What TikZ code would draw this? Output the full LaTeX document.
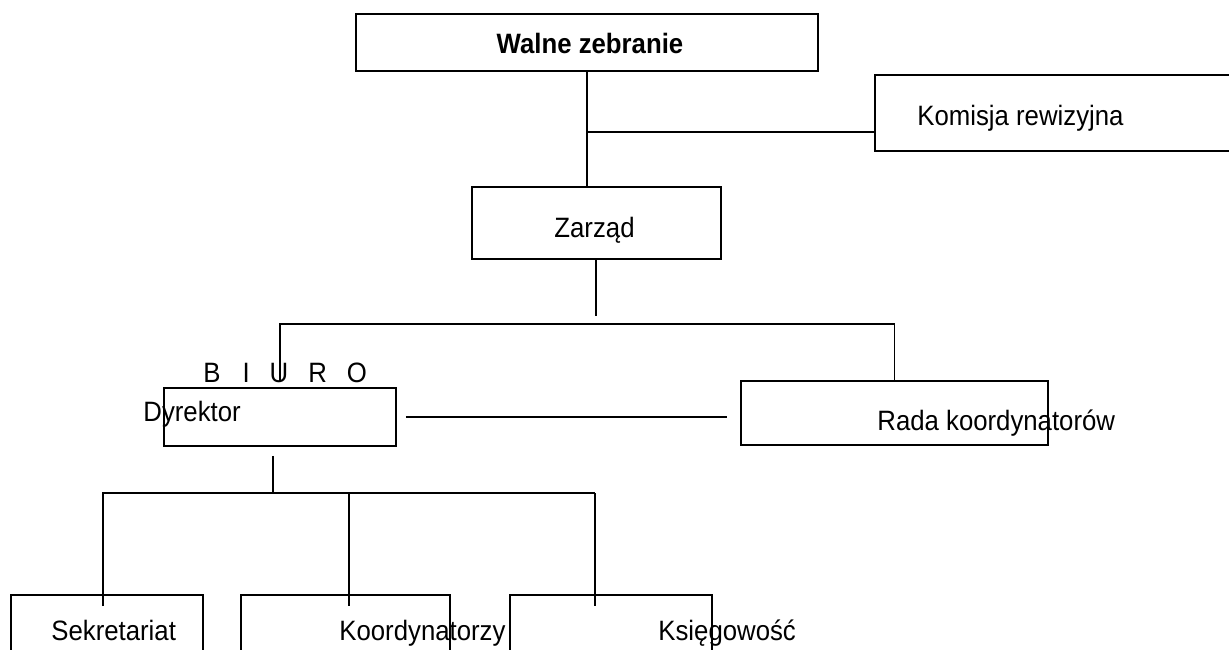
\documentclass[tikz,border=0pt]{standalone}
\usepackage{fontspec}
\setmainfont{Liberation Sans}[FakeStretch=0.92]
\usetikzlibrary{positioning}

\begin{document}
\begin{tikzpicture}[
        x=0.5pt, y=-0.5pt,
        every node/.style={font=\fontsize{14pt}{16pt}\selectfont},
        box/.style={draw, rectangle, inner sep=0pt, line width=0.75pt},
        lbl/.style={inner sep=0pt, anchor=base west},
        link/.style={line width=0.8pt},
        heavy/.style={line width=1.1pt}
    ]
    \clip (0,0) rectangle (1229,649);

    % boxes
    \node[box, minimum width=231pt, minimum height=28.5pt] (walne) at (587,42.5) {};
    \node[box, minimum width=187.5pt, minimum height=38pt] (komisja) at (1062.5,113) {};
    \node[box, minimum width=124.5pt, minimum height=36pt] (zarzad) at (596.5,223) {};
    \node[box, minimum width=116pt, minimum height=29pt] (dyrektor) at (280,417) {};
    \node[box, minimum width=153.5pt, minimum height=32pt] (rada) at (894.5,413) {};
    \node[box, minimum width=96pt, minimum height=52.5pt] (sekretariat) at (107,647.5) {};
    \node[box, heavy, minimum width=104.5pt, minimum height=52.5pt] (koord) at (345.5,647.5) {};
    \node[box, minimum width=101pt, minimum height=52.5pt] (ksieg) at (611,647.5) {};

    % texts
    \node[lbl, anchor=base] (walnetxt) at (590,53) {\textbf{Walne zebranie}};
    \node[lbl] (komisjatxt) at (917,125) {Komisja rewizyjna};
    \node[lbl] (zarzadtxt) at (554,237) {Zarząd};
    \node[lbl] (biurotxt) at (203,382) {B\hspace{11pt}I\hspace{10pt}U\hspace{10pt}R\hspace{10pt}O};
    \node[lbl] (dyrektortxt) at (143,421) {Dyrektor};
    \node[lbl] (radatxt) at (877,430) {Rada koordynatorów};
    \node[lbl] (sekretariattxt) at (51,640) {Sekretariat};
    \node[lbl] (koordtxt) at (339,640) {Koordynatorzy};
    \node[lbl] (ksiegtxt) at (658,640) {Księgowość};

    % connectors
    \coordinate (kj) at (587,132);
    \coordinate (fork) at (596,324);
    \coordinate (bus) at (273,493);
    \coordinate (s1) at (103,606);
    \coordinate (s2) at (349,606);
    \coordinate (s3) at (595,606);

    \draw[link] (walne.south) -- (walne.south |- zarzad.north);
    \draw[link] (kj) -- (kj -| komisja.west);

    \draw[heavy] (fork |- zarzad.south) -- ([yshift=4pt]fork);
    \draw[link] ([yshift=3pt]dyrektor.north) |- (rada.north |- fork) -- (rada.north);
    \draw[link] ([xshift=4.5pt]dyrektor.east) -- ([xshift=-6.5pt]rada.west |- dyrektor.east);

    \draw[heavy] ([xshift=-3.5pt, yshift=-4.5pt]dyrektor.south) -- (bus);
    \draw[heavy] (s1) -- (s1 |- bus) -- (s3 |- bus);
    \draw[heavy] (s2 |- bus) -- (s2);
    \draw[link] (s3 |- bus) -- (s3);
\end{tikzpicture}
\end{document}
